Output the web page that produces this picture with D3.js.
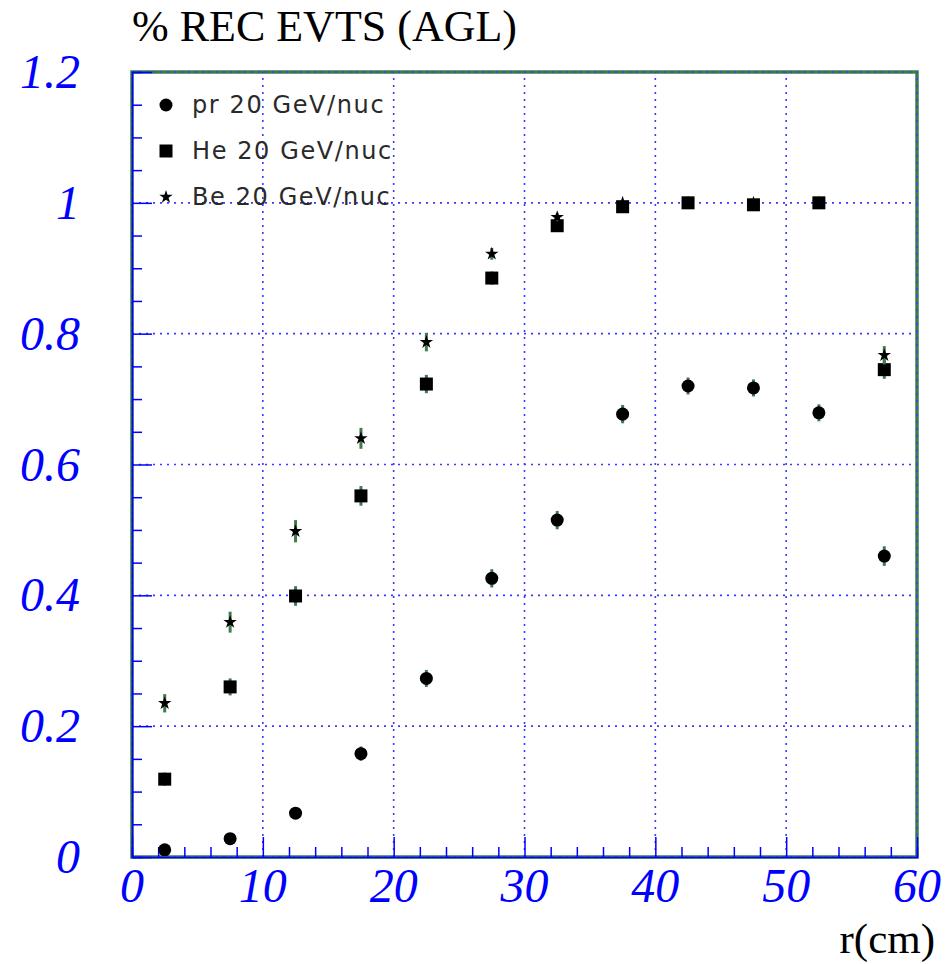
<!DOCTYPE html>
<html>
<head>
<meta charset="utf-8">
<script src="https://cdn.jsdelivr.net/npm/d3@7"></script>
<style>
  body { margin: 0; background: #fff; }
  svg { display: block; }
</style>
</head>
<body>
<svg id="chart"></svg>
<script>
// bin centres in r (cm)
const rBins = [2.5, 7.5, 12.5, 17.5, 22.5, 27.5, 32.5, 37.5, 42.5, 47.5, 52.5, 57.5];

// fraction of reconstructed events
const prValues = [0.011, 0.028, 0.067, 0.158, 0.273, 0.426, 0.515, 0.677, 0.720, 0.717, 0.679, 0.460];
const heValues = [0.119, 0.260, 0.399, 0.552, 0.723, 0.885, 0.965, 0.994, 1.000, 0.997, 1.000, 0.745];
const beValues = [0.235, 0.359, 0.498, 0.640, 0.787, 0.922, 0.978, 1.000, 1.000, 1.000, 1.000, 0.767];

// error bar half heights
const prErrors = [0.003, 0.005, 0.008, 0.011, 0.013, 0.014, 0.014, 0.014, 0.013, 0.013, 0.013, 0.015];
const heErrors = [0.010, 0.013, 0.015, 0.015, 0.014, 0.010, 0.006, 0.004, 0.002, 0.002, 0.001, 0.014];
const beErrors = [0.014, 0.016, 0.017, 0.016, 0.014, 0.009, 0.006, 0.003, 0.002, 0.002, 0.001, 0.014];

const seriesNames = ["pr 20 GeV/nuc", "He 20 GeV/nuc", "Be 20 GeV/nuc"];

const xTicks = [0, 10, 20, 30, 40, 50, 60];
const yTicks = [0, 0.2, 0.4, 0.6, 0.8, 1, 1.2];
const yTickLabels = ["0", "0.2", "0.4", "0.6", "0.8", "1", "1.2"];

const width = 951, height = 964;
const marginLeft = 132, marginRight = 34, marginTop = 72, marginBottom = 107;

const series = [
  {name: seriesNames[0], values: prValues, errors: prErrors, symbol: d3.symbolCircle, size: 133},
  {name: seriesNames[1], values: heValues, errors: heErrors, symbol: d3.symbolSquare, size: 169},
  {name: seriesNames[2], values: beValues, errors: beErrors, symbol: d3.symbolStar, size: 56}
];

const x = d3.scaleLinear([0, 60], [marginLeft, width - marginRight]);
const y = d3.scaleLinear([0, 1.2], [height - marginBottom, marginTop]);

const blue = "#0000ff";
const green = "#3d7d4d";

const svg = d3.select("#chart")
    .attr("width", width)
    .attr("height", height)
    .attr("viewBox", [0, 0, width, height]);

// frame
svg.append("rect")
    .attr("x", x(0)).attr("y", y(1.2))
    .attr("width", x(60) - x(0)).attr("height", y(0) - y(1.2))
    .attr("fill", "none")
    .attr("stroke", green)
    .attr("stroke-width", 3.5);

// dotted grid
const grid = svg.append("g")
    .attr("stroke", "#3a3aff")
    .attr("stroke-width", 1.6)
    .attr("stroke-dasharray", "2,5");
grid.selectAll(".gx")
  .data(xTicks)
  .join("line")
    .attr("x1", d => x(d)).attr("x2", d => x(d))
    .attr("y1", y(0)).attr("y2", y(1.2));
grid.selectAll(".gy")
  .data(yTicks)
  .join("line")
    .attr("y1", d => y(d)).attr("y2", d => y(d))
    .attr("x1", x(0)).attr("x2", x(60));

// axes: ticks pointing inward
const xAxis = d3.axisTop(x)
    .tickValues(d3.range(0, 61, 2))
    .tickSize(10)
    .tickFormat("");
const yAxis = d3.axisRight(y)
    .tickValues(d3.range(0, 1.2001, 0.05))
    .tickSize(10)
    .tickFormat("");

svg.append("g")
    .attr("transform", `translate(0,${y(0)})`)
    .call(xAxis)
    .call(g => g.select(".domain").attr("stroke", blue).attr("stroke-width", 1.5))
    .call(g => g.selectAll(".tick line")
        .attr("stroke", blue)
        .attr("stroke-width", 1.5)
        .attr("y2", d => (Math.round(d) % 10 === 0 ? -20 : -10)));

svg.append("g")
    .attr("transform", `translate(${x(0)},0)`)
    .call(yAxis)
    .call(g => g.select(".domain").attr("stroke", blue).attr("stroke-width", 1.5))
    .call(g => g.selectAll(".tick line")
        .attr("stroke", blue)
        .attr("stroke-width", 1.5)
        .attr("x2", d => (Math.round(d * 100) % 20 === 0 ? 20 : 10)));

// tick labels
svg.append("g")
    .attr("font-family", "'Liberation Serif', 'Times New Roman', serif")
    .attr("font-style", "italic")
    .attr("font-size", 48)
    .attr("fill", blue)
  .selectAll("text")
  .data(xTicks)
  .join("text")
    .attr("x", d => x(d))
    .attr("y", y(0) + 45)
    .attr("text-anchor", "middle")
    .text(d => d);

svg.append("g")
    .attr("font-family", "'Liberation Serif', 'Times New Roman', serif")
    .attr("font-style", "italic")
    .attr("font-size", 48)
    .attr("fill", blue)
  .selectAll("text")
  .data(yTicks)
  .join("text")
    .attr("x", 80)
    .attr("y", d => y(d) + 16)
    .attr("text-anchor", "end")
    .text((d, i) => yTickLabels[i]);

// titles
svg.append("text")
    .attr("x", 132)
    .attr("y", 41)
    .attr("font-family", "'Liberation Serif', 'Times New Roman', serif")
    .attr("font-size", 44)
    .attr("fill", "#000")
    .text("% REC EVTS (AGL)");

svg.append("text")
    .attr("x", 935)
    .attr("y", 953)
    .attr("text-anchor", "end")
    .attr("font-family", "'Liberation Serif', 'Times New Roman', serif")
    .attr("font-size", 43)
    .attr("fill", "#000")
    .text("r(cm)");

// data points with error bars
series.forEach(s => {
  const g = svg.append("g");
  g.selectAll("line")
    .data(rBins)
    .join("line")
      .attr("x1", d => x(d)).attr("x2", d => x(d))
      .attr("y1", (d, i) => y(s.values[i] - s.errors[i]))
      .attr("y2", (d, i) => y(s.values[i] + s.errors[i]))
      .attr("stroke", green)
      .attr("stroke-width", 3);
  g.selectAll("path")
    .data(rBins)
    .join("path")
      .attr("transform", (d, i) => `translate(${x(d)},${y(s.values[i])})`)
      .attr("d", d3.symbol(s.symbol, s.size))
      .attr("fill", "#000");
});

// legend
const legend = svg.append("g")
  .selectAll("g")
  .data(series)
  .join("g")
    .attr("transform", (d, i) => `translate(166,${105 + i * 46})`);
legend.append("path")
    .attr("d", d => d3.symbol(d.symbol, d.size)())
    .attr("fill", "#000");
legend.append("text")
    .attr("x", 26)
    .attr("y", 8)
    .attr("font-family", "'DejaVu Sans', sans-serif")
    .attr("font-size", 24)
    .attr("letter-spacing", 1.6)
    .attr("fill", "#2a2a2a")
    .text(d => d.name);
</script>
</body>
</html>
